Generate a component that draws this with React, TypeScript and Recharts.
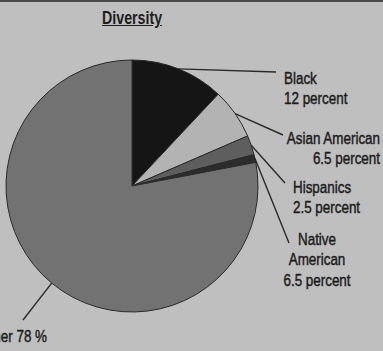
import { Pie, PieChart, Cell } from "recharts"

// slice sizes as drawn in the clipping (the Native American slice is a sliver)
const groups = ["Black", "Asian American", "Hispanics", "Native American", "Other"]
const shares = [12, 6.5, 2.5, 1, 78]
const labelText = [
  ["Black", "12 percent"],
  ["Asian American", "6.5 percent"],
  ["Hispanics", "2.5 percent"],
  ["Native", "American", "6.5 percent"],
  ["Other 78 %"],
]

const colors = ["#151515", "#b3b3b3", "#5e5e5e", "#2c2c2c", "#727272"]

// where each callout ends and how its text sits
const callouts = [
  { lx: 276, ly: 72, tx: 284, ty: 84, anchor: "start" },
  { lx: 283, ly: 135, tx: 380, ty: 144, anchor: "end" },
  { lx: 285, ly: 183, tx: 293, ty: 193, anchor: "start" },
  { lx: 289, ly: 243, tx: 317, ty: 245, anchor: "middle" },
  { lx: 23, ly: 320, tx: 47, ty: 342, anchor: "end" },
]

const data = groups.map((name, i) => ({ name, value: shares[i] }))

// no condensed face installed, so squeeze Liberation Sans a bit
const FONT = "'Liberation Sans', Arial, sans-serif"
const SQUEEZE = 0.79
const RADIAN = Math.PI / 180

function Callout(props: any) {
  const { cx, cy, midAngle, outerRadius, index } = props
  const c = callouts[index]
  const sx = cx + outerRadius * Math.cos(-midAngle * RADIAN)
  const sy = cy + outerRadius * Math.sin(-midAngle * RADIAN)
  return (
    <g>
      <line x1={sx} y1={sy} x2={c.lx} y2={c.ly} stroke="#2a2a2a" strokeWidth={1.4} />
      <g transform={`translate(${c.tx} ${c.ty}) scale(${SQUEEZE} 1)`}>
        <text
          x={0}
          y={0}
          textAnchor={c.anchor}
          fill="#1c1c1c"
          stroke="#1c1c1c"
          strokeWidth={0.45}
          fontFamily={FONT}
          fontSize={17}
        >
          {labelText[index].map((t, j) => (
            <tspan key={j} x={0} dy={j === 0 ? 0 : 20.5}>
              {t}
            </tspan>
          ))}
        </text>
      </g>
    </g>
  )
}

export default function App() {
  return (
    <div
      style={{
        position: "absolute",
        left: 0,
        top: 0,
        width: 383,
        height: 351,
        background: "#bfbfbf",
        overflow: "hidden",
      }}
    >
      <div style={{ position: "absolute", left: 0, top: 0, width: 383, height: 2, background: "#4a4a4a" }} />
      <div
        style={{
          position: "absolute",
          left: 102,
          top: 8,
          fontFamily: FONT,
          fontWeight: 700,
          fontSize: 18,
          color: "#1e1e1e",
          textDecoration: "underline",
          lineHeight: "20px",
          transform: `scaleX(${SQUEEZE})`,
          transformOrigin: "left top",
          whiteSpace: "nowrap",
        }}
      >
        Diversity
      </div>
      <PieChart width={383} height={351} margin={{ top: 0, right: 0, bottom: 0, left: 0 }}>
        <Pie
          data={data}
          dataKey="value"
          nameKey="name"
          cx={132}
          cy={186}
          outerRadius={126}
          startAngle={90}
          endAngle={-270}
          stroke="#2a2a2a"
          strokeWidth={1}
          label={Callout}
          labelLine={false}
          isAnimationActive={false}
        >
          {data.map((d, i) => (
            <Cell key={d.name} fill={colors[i]} />
          ))}
        </Pie>
      </PieChart>
    </div>
  )
}
